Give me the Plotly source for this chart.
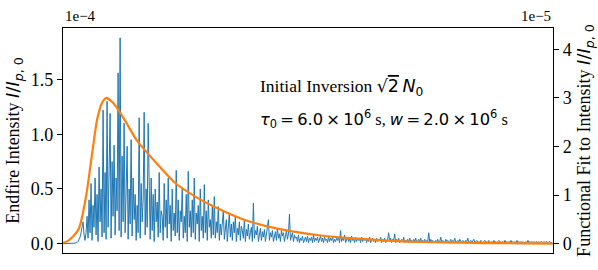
import numpy as np
import plotly.graph_objects as go

# ---- data ----
# Endfire intensity, in units of 1e-4, one value per time step
pre = [0] * 12
onset = [0.005, 0.01, 0.01, 0.02, 0.04, 0.06, 0.1, 0.15, 0.2, 0.08, 0.03, 0.1]
burst = [0.25, 0.05, 0.4, 0.1, 0.55, 0.03, 0.35, 0.15, 0.6, 0.08,
         0.45, 0.02, 0.7, 0.2, 0.5, 0.06, 1.22, 0.1, 0.65, 0.04,
         1.3, 0.15, 0.55, 1.19, 0.05, 0.75, 0.25, 0.9, 0.08, 0.6,
         0.3, 1.56, 0.12, 1.88, 0.06, 0.8, 0.2, 1.1, 0.1, 0.7,
         0.89, 0.04, 0.5, 0.18, 0.95, 0.07, 0.6, 0.22, 0.45, 0.03]
decay1 = [0.35, 0.1, 1.15, 0.05, 0.55, 0.2, 0.4, 1.2, 0.08, 0.5,
          0.15, 1.1, 0.3, 0.04, 0.6, 0.12, 0.45, 0.02, 0.5, 0.2,
          0.38, 0.06, 0.65, 0.1, 0.3, 0.25, 0.03, 0.55, 0.15, 0.4,
          0.05, 0.6, 0.18, 0.35, 0.02, 0.5, 0.12, 0.28, 0.07, 0.67,
          0.1, 0.4, 0.03, 0.3, 0.2, 0.5, 0.05, 0.25, 0.1, 0.45,
          0.02, 0.66, 0.15, 0.3, 0.06, 0.4, 0.1, 0.6, 0.04, 0.28,
          0.18, 0.35, 0.02, 0.5, 0.12, 0.25, 0.05, 0.54, 0.1, 0.3,
          0.03, 0.4, 0.15, 0.22, 0.05, 0.35, 0.08]
decay2 = [0.43, 0.05, 0.2, 0.1, 0.34, 0.03, 0.18, 0.08, 0.25, 0.3,
          0.04, 0.15, 0.22, 0.02, 0.12, 0.28, 0.06, 0.18, 0.03, 0.2,
          0.1, 0.25, 0.02, 0.14, 0.08, 0.2, 0.03, 0.16, 0.12, 0.05,
          0.22, 0.02, 0.13, 0.07, 0.18, 0.04, 0.1, 0.15, 0.02, 0.37,
          0.05, 0.12, 0.08, 0.16, 0.02, 0.1, 0.14, 0.03, 0.11, 0.06,
          0.13, 0.02, 0.09, 0.15, 0.22, 0.03, 0.1, 0.06, 0.12, 0.02,
          0.08, 0.11, 0.03, 0.14, 0.05, 0.09, 0.02, 0.12, 0.07, 0.1,
          0.02, 0.08, 0.12, 0.04, 0.09, 0.27, 0.03, 0.07, 0.1, 0.02,
          0.08, 0.05]
tail1 = [0.06, 0.02, 0.08, 0.01, 0.05, 0.03, 0.07, 0.01, 0.04, 0.06,
         0.02, 0.07, 0.01, 0.05, 0.03, 0.06, 0.01, 0.08, 0.02, 0.05,
         0.03, 0.06, 0.01, 0.04, 0.07, 0.02, 0.05, 0.01, 0.06, 0.03,
         0.04, 0.01, 0.07, 0.02, 0.05, 0.03, 0.06, 0.01, 0.04, 0.02,
         0.05, 0.03, 0.06, 0.01, 0.12, 0.02, 0.05, 0.03, 0.08, 0.01,
         0.04, 0.06, 0.02, 0.05, 0.01, 0.07, 0.03, 0.04, 0.01, 0.06,
         0.02, 0.05, 0.03, 0.04, 0.01, 0.06, 0.02, 0.04, 0.03, 0.05,
         0.01, 0.04, 0.02, 0.06, 0.01, 0.03, 0.05, 0.02, 0.04, 0.01,
         0.05, 0.02, 0.04, 0.03, 0.06, 0.01, 0.04, 0.02, 0.05, 0.01,
         0.03, 0.04, 0.1, 0.02, 0.05, 0.01, 0.04, 0.03, 0.09, 0.01,
         0.04, 0.02, 0.05, 0.01, 0.03, 0.04, 0.02, 0.06, 0.01, 0.03,
         0.02, 0.04, 0.01, 0.05, 0.02, 0.03, 0.01, 0.04, 0.02, 0.05,
         0.01, 0.03, 0.04, 0.02, 0.05, 0.01, 0.03, 0.02, 0.04, 0.01,
         0.03, 0.02, 0.1, 0.01, 0.04, 0.02, 0.03, 0.01]
tail2 = [0.01, 0.03, 0.02, 0.04, 0.01, 0.02, 0.06, 0.01, 0.03, 0.02,
         0.01, 0.04, 0.02, 0.03, 0.01, 0.02, 0.04, 0.01, 0.03, 0.02,
         0.05, 0.01, 0.02, 0.03, 0.01, 0.04, 0.02, 0.01, 0.03, 0.02,
         0.01, 0.03, 0.02, 0.05, 0.01, 0.02, 0.03, 0.01, 0.02, 0.04,
         0.01, 0.02, 0.03, 0.01, 0.02, 0.01, 0.03, 0.02, 0.01, 0.02,
         0.03, 0.01, 0.02, 0.01, 0.03, 0.02, 0.01, 0.02, 0.01, 0.03,
         0.01, 0.02, 0.01, 0.02, 0.03, 0.01, 0.02, 0.01, 0.02, 0.01,
         0.03, 0.01, 0.02, 0.01, 0.02, 0.01, 0.03, 0.01, 0.02, 0.01,
         0.02, 0.01, 0.03, 0.01, 0.02, 0.01, 0.02, 0.01, 0.02, 0.01,
         0.01, 0.02, 0.01, 0.03, 0.01, 0.02, 0.01, 0.02, 0.01, 0.02,
         0.01, 0.02, 0.01, 0.01, 0.02, 0.01, 0.02, 0.01, 0.01, 0.02,
         0.01, 0.02, 0.01, 0.01, 0.02, 0.01, 0.01, 0.01, 0.0]
endfire = pre + onset + burst + decay1 + decay2 + tail1 + tail2
t_endfire = np.arange(len(endfire))

# Functional fit, in units of 1e-5
fit_t = [0, 5, 10, 15, 17, 20, 24, 27, 30, 34, 39, 43, 50, 60, 72, 77, 92, 112, 132,
         152, 180, 214, 257, 297, 337, 377, 420, 460, 489]
fit_v = [0.02, 0.06, 0.15, 0.28, 0.38, 0.65, 1.1, 1.55, 2.0, 2.55, 2.9, 3.0, 2.9, 2.6,
         2.18, 2.04, 1.69, 1.25, 0.97, 0.75, 0.5, 0.31, 0.17, 0.1, 0.05, 0.03, 0.015,
         0.008, 0.004]

left_ticks = [0, 0.5, 1.0, 1.5]
left_labels = ["0.0", "0.5", "1.0", "1.5"]
right_ticks = [0, 1, 2, 3, 4]
right_labels = ["0", "1", "2", "3", "4"]

SERIF = "Liberation Serif"
SANS = "DejaVu Sans"
W, H = 598, 270
ML, MR, MT, MB = 63, 45, 28, 17

fig = go.Figure()
fig.add_trace(go.Scatter(x=t_endfire, y=endfire, mode="lines",
                         line=dict(color="#1f77b4", width=1.0), yaxis="y",
                         showlegend=False))
fig.add_trace(go.Scatter(x=fit_t, y=fit_v, mode="lines",
                         line=dict(color="#ff7f0e", width=2.2, shape="spline", smoothing=0.6),
                         yaxis="y2", showlegend=False))

axis_common = dict(showgrid=False, zeroline=False, showline=True, linecolor="black",
                   linewidth=1.3, ticks="outside", ticklen=5, tickwidth=1.1,
                   tickcolor="black", automargin=False,
                   tickfont=dict(family=SERIF, size=18, color="black"))

lab = "<span style='font-family:DejaVu Sans'><i>I</i>/<i>I</i><sub><i>p</i>, 0</sub></span>"
fig.update_layout(
    width=W, height=H,
    margin=dict(l=ML, r=MR, t=MT, b=MB),
    plot_bgcolor="white", paper_bgcolor="white",
    xaxis=dict(range=[0, 489], showgrid=False, zeroline=False, showline=True,
               linecolor="black", linewidth=1.3, mirror=True, ticks="",
               showticklabels=False, automargin=False),
    yaxis=dict(range=[-0.085, 1.97], tickvals=left_ticks, ticktext=left_labels,
               title=dict(text="Endfire Intensity " + lab,
                          font=dict(family=SERIF, size=18, color="black"), standoff=6),
               **axis_common),
    yaxis2=dict(range=[-0.19, 4.44], tickvals=right_ticks, ticktext=right_labels,
                overlaying="y", side="right",
                title=dict(text="Functional Fit to Intensity " + lab,
                           font=dict(family=SERIF, size=18, color="black"), standoff=6),
                **axis_common),
    font=dict(family=SERIF, color="black"),
)


def px_x(x):
    return (x - ML) / (W - ML - MR)


def px_y(y):
    return 1 - (y - MT) / (H - MT - MB)


TS = "\u2009"
annots = [
    dict(text="1e−4", x=0, y=1, xref="paper", yref="paper", xanchor="left",
         yanchor="bottom", yshift=2, font=dict(family=SERIF, size=15), showarrow=False),
    dict(text="1e−5", x=1, y=1, xref="paper", yref="paper", xanchor="right",
         yanchor="bottom", yshift=2, font=dict(family=SERIF, size=15), showarrow=False),
    dict(text="Initial Inversion <span style='font-family:DejaVu Sans'>√<span style='text-decoration:overline'>2</span>" + TS + "<i>N</i><sub>0</sub></span>",
         x=px_x(258), y=px_y(87), xref="paper", yref="paper", xanchor="left",
         yanchor="middle", font=dict(family=SERIF, size=17.5), showarrow=False),
    dict(text="<span style='font-family:DejaVu Sans'><i>τ</i><sub>0</sub>" + TS + "=" + TS + "6.0" + TS + "×" + TS + "10<sup>6</sup></span> s, "
              "<span style='font-family:DejaVu Sans'><i>w</i>" + TS + "=" + TS + "2.0" + TS + "×" + TS + "10<sup>6</sup></span> s",
         x=px_x(258), y=px_y(119), xref="paper", yref="paper", xanchor="left",
         yanchor="middle", font=dict(family=SERIF, size=16.3), showarrow=False),
]
fig.update_layout(annotations=annots)

fig.write_html("out.html", config={"displayModeBar": False},
               post_script="document.body.style.margin='0';document.body.style.overflow='hidden';")
